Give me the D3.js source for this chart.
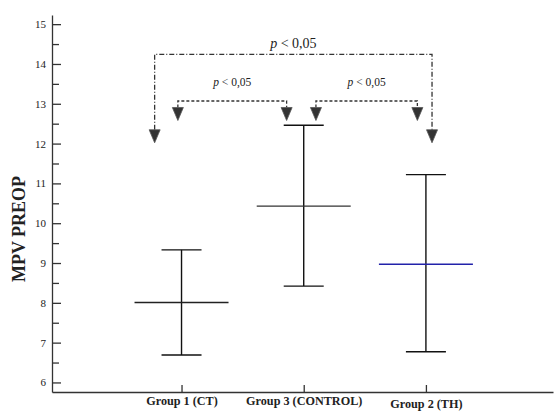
<!DOCTYPE html>
<html>
<head>
<meta charset="utf-8">
<script src="https://cdn.jsdelivr.net/npm/d3@7"></script>
<style>
  html, body { margin: 0; padding: 0; background: #fff; }
  svg, svg text { font-family: "Liberation Serif", "DejaVu Serif", serif; }
</style>
</head>
<body>
<div id="chart"></div>
<script>
// groups in plotting order (x = 1, 2, 3)
const groups = ['Group 1 (CT)', 'Group 3 (CONTROL)', 'Group 2 (TH)'];
const means = [8.01, 10.43, 8.97];
const upper = [9.33, 12.46, 11.22];
const lower = [6.69, 8.42, 6.77];
const meanColors = ['#222', '#333', '#2222aa'];

const yTicks = [6, 7, 8, 9, 10, 11, 12, 13, 14, 15];
const yMinorTicks = [6.5, 7.5, 8.5, 9.5, 10.5, 11.5, 12.5, 13.5, 14.5];

// significance brackets: from group a to group b (x in group units)
const brackets = [
  { from: 0.78, to: 3.05, level: 14.24, tip: 12.02, label: 'p < 0,05', big: true, dash: '5,2,1,2' },
  { from: 0.97, to: 1.86, level: 13.07, tip: 12.58, label: 'p < 0,05', big: false, dash: '3,2' },
  { from: 2.10, to: 2.93, level: 13.07, tip: 12.58, label: 'p < 0,05', big: false, dash: '3,2' },
];

const width = 554, height = 415;

const svg = d3.select('#chart').append('svg')
  .attr('width', width)
  .attr('height', height);

const x = d3.scaleLinear().domain([-0.06, 4.04]).range([52, 553]);
const y = d3.scaleLinear().domain([5.76, 15.23]).range([392, 15]);

// EJE Y
const yAxis = svg.append('g')
  .attr('transform', 'translate(52,0)')
  .call(d3.axisLeft(y).tickValues(yTicks).tickSizeInner(-9).tickSizeOuter(0).tickPadding(6).tickFormat(d3.format('d')));
yAxis.attr('font-family', null);
yAxis.selectAll('text').style('font-size', '11px').attr('fill', '#222');
yAxis.selectAll('line, path').attr('stroke', '#333').attr('stroke-width', 1.3);

const yMinor = svg.append('g')
  .attr('transform', 'translate(52,0)')
  .call(d3.axisLeft(y).tickValues(yMinorTicks).tickSizeInner(-7).tickSizeOuter(0).tickFormat(''));
yMinor.select('.domain').remove();
yMinor.selectAll('line').attr('stroke', '#333').attr('stroke-width', 1.3);

svg.append('text')
  .attr('transform', 'translate(25,229) rotate(-90)')
  .attr('text-anchor', 'middle')
  .style('font-size', '18px')
  .style('font-weight', 'bold')
  .attr('fill', '#222')
  .text('MPV PREOP');

// EJE X
const xAxis = svg.append('g')
  .attr('transform', 'translate(0,392)')
  .call(d3.axisBottom(x).tickValues([1, 2, 3]).tickSizeInner(-7).tickSizeOuter(0).tickPadding(5)
    .tickFormat((d) => groups[d - 1]));
xAxis.attr('font-family', null);
xAxis.selectAll('line, path').attr('stroke', '#333').attr('stroke-width', 1.3);
xAxis.selectAll('text')
  .style('font-size', '12.2px')
  .style('font-weight', 'bold')
  .attr('fill', '#222')
  .attr('y', (d) => (d === 3 ? 7 : 4.5));

// ERROR BARS
const bars = svg.append('g')
  .selectAll('g')
  .data(groups)
  .enter()
  .append('g');

bars.append('line')
  .attr('x1', (d, i) => x(i + 1))
  .attr('x2', (d, i) => x(i + 1))
  .attr('y1', (d, i) => y(upper[i]))
  .attr('y2', (d, i) => y(lower[i]))
  .attr('stroke', '#111')
  .attr('stroke-width', 1.4);

bars.each(function (d, i) {
  const g = d3.select(this);
  [upper[i], lower[i]].forEach((v) => {
    g.append('line')
      .attr('x1', x(i + 1) - 20)
      .attr('x2', x(i + 1) + 20)
      .attr('y1', y(v))
      .attr('y2', y(v))
      .attr('stroke', '#111')
      .attr('stroke-width', 1.4);
  });
  g.append('line')
    .attr('x1', x(i + 1) - 47)
    .attr('x2', x(i + 1) + 47)
    .attr('y1', y(means[i]))
    .attr('y2', y(means[i]))
    .attr('stroke', meanColors[i])
    .attr('stroke-width', 1.4);
});

// BRACKETS
const arrow = (cx, tipY) => {
  const w = 5.5, h = 13;
  return `M${cx - w},${tipY - h}L${cx + w},${tipY - h}L${cx},${tipY}Z`;
};

brackets.forEach((b) => {
  const g = svg.append('g');
  const x1 = x(b.from), x2 = x(b.to);
  const ly = y(b.level), ty = y(b.tip);
  g.append('path')
    .attr('d', `M${x1},${ty - 13}V${ly}H${x2}V${ty - 13}`)
    .attr('fill', 'none')
    .attr('stroke', '#333')
    .attr('stroke-width', 1.3)
    .attr('stroke-dasharray', b.dash);
  [x1, x2].forEach((cx) => {
    g.append('path')
      .attr('d', arrow(cx, ty))
      .attr('fill', '#333')
      .attr('stroke', '#555')
      .attr('stroke-width', 0.8);
  });
  const t = g.append('text')
    .attr('x', (x1 + x2) / 2)
    .attr('y', ly - (b.big ? 6 : 15))
    .attr('text-anchor', 'middle')
    .attr('fill', '#222')
    .style('font-size', b.big ? '14px' : '11.5px');
  t.append('tspan').style('font-style', 'italic').text('p');
  t.append('tspan').text(' < 0,05');
});
</script>
</body>
</html>
